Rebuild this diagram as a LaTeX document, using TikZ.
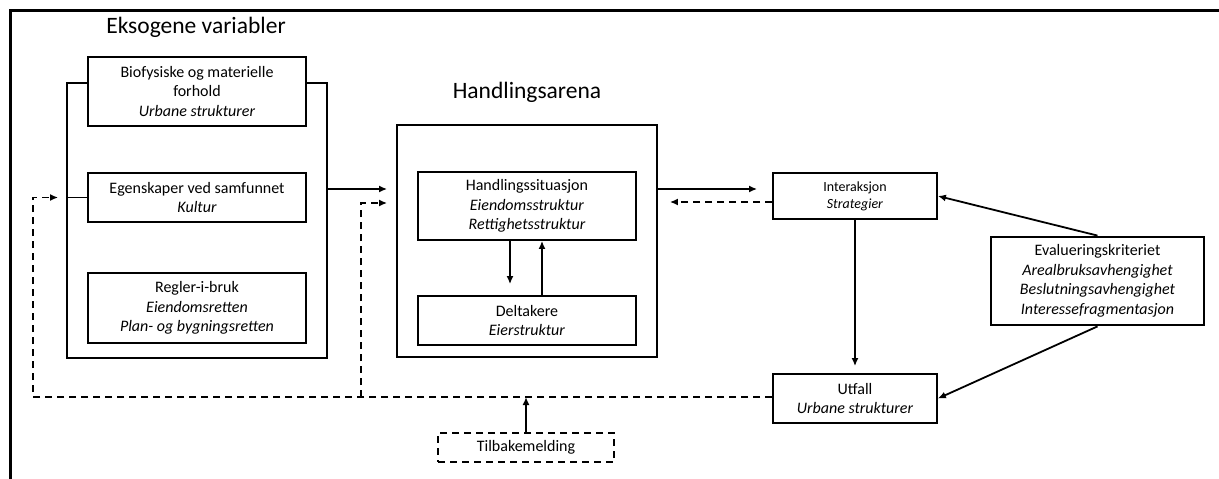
\documentclass[tikz,border=0pt]{standalone}
\usepackage{fontspec}
\setmainfont{Carlito}
\usetikzlibrary{arrows.meta,positioning}

\tikzset{
  box/.style={draw, line width=1.8pt, fill=white, align=center, inner sep=2pt,
    font=\fontsize{16}{19.5}\selectfont},
  group/.style={draw, line width=1.8pt},
  title/.style={font=\fontsize{23.5}{27}\selectfont},
  arr/.style={line width=1.8pt, -{Latex[length=8pt,width=7pt]}},
  fb/.style={line width=1.8pt, dash pattern=on 7pt off 5pt}
}

\begin{document}
\begin{tikzpicture}[x=1pt, y=-1pt]
  \useasboundingbox (0,0) rectangle (1219,479);

  % Frame
  \draw[line width=3pt] (10,479) -- (10,10) -- (1219,10);

  % Define nodes
  \node[title] (eks_t) at (196,27) {Eksogene variabler};
  \node[group, minimum width=260pt, minimum height=275pt] (eks) at (197,220.5) {};
  \node[box, minimum width=218pt, minimum height=69pt] (bio) at (197,91.5)
    {Biofysiske og materielle\\forhold\\\textit{Urbane strukturer}};
  \node[box, minimum width=218pt, minimum height=49pt] (ego) at (197,197.5)
    {Egenskaper ved samfunnet\\\textit{Kultur}};
  \node[box, minimum width=218pt, minimum height=70pt] (regler) at (197,308)
    {Regler-i-bruk\\\textit{Eiendomsretten}\\\textit{Plan- og bygningsretten}};

  \node[title] (arena_t) at (527,92) {Handlingsarena};
  \node[group, minimum width=260pt, minimum height=232pt] (arena) at (527,241) {};
  \node[box, minimum width=218pt, minimum height=68pt] (hs) at (527,206)
    {Handlingssituasjon\\\textit{Eiendomsstruktur}\\\textit{Rettighetsstruktur}};
  \node[box, minimum width=218pt, minimum height=49pt] (delt) at (527,320.5)
    {Deltakere\\\textit{Eierstruktur}};

  \node[box, minimum width=164pt, minimum height=46pt,
    font=\fontsize{14}{17}\selectfont] (inter) at (855,196)
    {Interaksjon\\\textit{Strategier}};
  \node[box, minimum width=164pt, minimum height=49pt] (utfall) at (855,398.5)
    {Utfall\\\textit{Urbane strukturer}};
  \node[box, line width=2.8pt, minimum width=213pt, minimum height=88pt] (eval) at (1097.5,281)
    {Evalueringskriteriet\\\textit{Arealbruksavhengighet}\\\textit{Beslutningsavhengighet}\\\textit{Interessefragmentasjon}};
  \node[box, fb, minimum width=176pt, minimum height=29pt] (tb) at (526,447.5) {Tilbakemelding};

  \coordinate (fb1) at (33,397);
  \coordinate (fb2) at (361,397);

  % Connect the nodes
  \draw[line width=1.8pt] (eks.west |- ego.west) -- (ego.west);
  \draw[arr, shorten >=9pt] (eks.east |- 0,189) -- (arena.west |- 0,189);
  \draw[arr, shorten >=15pt] (arena.east |- 0,189) -- (inter.west |- 0,189);
  \draw[arr, fb, shorten >=12pt] (inter.west |- 0,202) -- (arena.east |- 0,202);
  \draw[arr, shorten >=11pt] (hs.south -| 510,0) -- (delt.north -| 510,0);
  \draw[arr] (delt.north -| 542,0) -- (hs.south -| 542,0);
  \draw[arr, shorten >=7pt] (inter) -- (utfall);
  \draw[arr] (eval.north) -- (inter.east);
  \draw[arr] (eval.south) -- (utfall.east);

  % Feedback
  \draw[arr, fb, shorten >=8pt] (utfall.west |- fb1) -- (fb1) |- (eks.west |- ego.west);
  \draw[arr, fb, shorten >=9pt] (fb2) |- (arena.west |- 0,203);
  \draw[arr] (tb.north) -- (tb.north |- fb2);

\end{tikzpicture}
\end{document}
